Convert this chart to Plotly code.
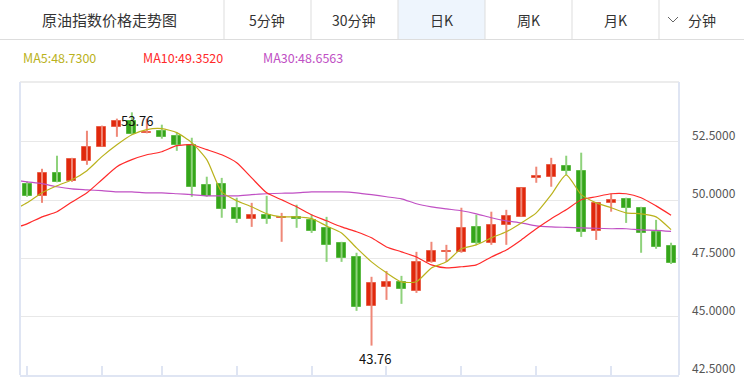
import plotly.graph_objects as go

# ---------------- data ----------------
opens = [50.70, 50.18, 51.17, 50.83, 51.68, 52.29, 53.14, 53.40, 52.86, 52.97,
         52.76, 52.37, 50.65, 50.70, 49.67, 49.20, 49.37, 49.22, 49.28, 49.15,
         48.81, 48.17, 47.56, 45.46, 46.28, 46.49, 46.11, 47.35, 47.76, 47.78,
         48.85, 48.17, 48.94, 49.28, 50.95, 51.00, 51.47, 51.26, 48.68, 49.88,
         50.05, 49.67, 48.64, 48.04]
highs = [50.79, 51.34, 51.90, 51.81, 52.97, 53.19, 53.49, 53.76, 53.49, 53.23,
         52.89, 52.67, 51.00, 50.95, 50.10, 49.88, 50.18, 49.45, 49.80, 49.37,
         49.28, 48.21, 47.74, 46.71, 46.96, 46.75, 47.78, 48.21, 48.08, 49.67,
         49.37, 49.50, 49.58, 50.53, 51.43, 51.81, 51.90, 52.03, 49.88, 50.27,
         50.10, 49.71, 49.15, 48.17]
lows = [50.14, 49.88, 50.76, 50.78, 51.51, 52.29, 52.71, 52.80, 52.86, 52.63,
        52.11, 50.14, 50.14, 49.24, 49.02, 48.85, 48.98, 48.21, 48.81, 48.59,
        47.35, 47.35, 45.25, 43.76, 45.72, 45.55, 46.02, 47.31, 47.35, 47.74,
        48.08, 48.08, 48.08, 49.28, 50.74, 50.57, 51.08, 48.42, 48.29, 49.50,
        49.02, 47.74, 47.91, 47.26]
closes = [50.18, 51.17, 50.78, 51.77, 52.29, 53.14, 53.40, 52.84, 52.93, 52.71,
          52.37, 50.57, 50.18, 49.62, 49.20, 49.37, 49.20, 49.26, 49.20, 48.68,
          48.08, 47.52, 45.42, 46.45, 46.49, 46.19, 47.35, 47.82, 47.82, 48.81,
          48.17, 48.94, 49.32, 50.53, 51.04, 51.51, 51.26, 48.64, 49.88, 50.01,
          49.67, 48.59, 47.99, 47.31]

# moving averages (first value belongs to the day before the first candle)
ma5 = [49.54, 49.88, 50.31, 50.61, 50.87, 51.26, 51.86, 52.37, 52.80, 53.02,
       53.06, 52.89, 52.46, 51.73, 50.35, 49.97, 49.71, 49.41, 49.28, 49.28,
       49.20, 48.89, 48.59, 47.95, 47.35, 46.88, 46.49, 46.50, 47.09, 47.35,
       47.91, 48.08, 48.38, 48.64, 49.02, 49.45, 50.23, 51.08, 50.23, 49.88,
       49.67, 49.45, 49.41, 49.28, 48.73]
ma10 = [48.77, 48.98, 49.28, 49.50, 49.92, 50.31, 50.87, 51.43, 51.73, 51.94,
        52.07, 52.33, 52.37, 52.16, 51.94, 51.60, 50.95, 50.31, 50.01, 49.71,
        49.37, 49.11, 48.85, 48.64, 48.38, 47.99, 47.78, 47.56, 47.22, 47.09,
        47.14, 47.22, 47.56, 47.86, 48.29, 48.77, 49.20, 49.58, 50.01, 50.14,
        50.27, 50.27, 50.10, 49.75, 49.352]
ma30 = [50.87, 50.78, 50.70, 50.57, 50.48, 50.44, 50.40, 50.35, 50.35, 50.31,
        50.31, 50.27, 50.23, 50.18, 50.18, 50.18, 50.23, 50.27, 50.29, 50.31,
        50.35, 50.35, 50.35, 50.31, 50.23, 50.14, 50.05, 49.84, 49.71, 49.62,
        49.54, 49.41, 49.24, 49.11, 49.02, 48.89, 48.85, 48.83, 48.81, 48.79,
        48.77, 48.77, 48.72, 48.70, 48.6563]

legend_texts = ["MA5:48.7300", "MA10:49.3520", "MA30:48.6563"]
y_ticks = [42.5, 45.0, 47.5, 50.0, 52.5]
y_tick_text = ["42.5000", "45.0000", "47.5000", "50.0000", "52.5000"]
x_ticks = [0, 5, 9, 14, 19, 24, 29, 34, 39]
title_text = "原油指数价格走势图"
tabs = ["5分钟", "30分钟", "日K", "周K", "月K", "分钟"]

# ---------------- styling ----------------
FONT = "Noto Sans CJK SC"
RED, RED_L = "#e0280c", "#ef8878"
GREEN, GREEN_L = "#35a51a", "#8fd27c"
C_MA5, C_MA10, C_MA30 = "#bab21c", "#ff2a2a", "#c050c4"

W, H = 744, 378
ML, MR, MT, MB = 20, 65, 82, 3
PW, PH = W - ML - MR, H - MT - MB


def px(xp):
    return (xp - ML) / PW


def py(yp):
    return (H - MB - yp) / PH


n = len(opens)
xs = list(range(n))
up = [c >= o for o, c in zip(opens, closes)]

fig = go.Figure()

# wicks
for flag, col in ((True, RED_L), (False, GREEN_L)):
    wx, wy = [], []
    for i in range(n):
        if up[i] == flag:
            wx += [xs[i], xs[i], None]
            wy += [lows[i], highs[i], None]
    fig.add_trace(go.Scatter(x=wx, y=wy, mode="lines", hoverinfo="skip",
                             line=dict(color=col, width=2), showlegend=False))

# bodies
base = [min(o, c) for o, c in zip(opens, closes)]
height = [max(abs(c - o), 0.05) for o, c in zip(opens, closes)]
fig.add_trace(go.Bar(
    x=xs, y=height, base=base, width=0.6, showlegend=False,
    marker=dict(color=[RED if u else GREEN for u in up],
                line=dict(color=["#e9604a" if u else "#5cba45" for u in up], width=1)),
))

# moving averages
ma_x = list(range(-1, n))
for vals, col in ((ma30, C_MA30), (ma10, C_MA10), (ma5, C_MA5)):
    fig.add_trace(go.Scatter(x=ma_x, y=vals, mode="lines", showlegend=False,
                             line=dict(color=col, width=1.2, shape="spline", smoothing=0.6)))

# high / low labels
imax = highs.index(max(highs))
imin = lows.index(min(lows))
annotations = [
    dict(x=xs[imax], y=highs[imax], text=f"{highs[imax]:.2f}", showarrow=False,
         xanchor="center", yanchor="top", xshift=5, yshift=3,
         font=dict(family=FONT, size=13, color="#111")),
    dict(x=xs[imin], y=lows[imin], text=f"{lows[imin]:.2f}", showarrow=False,
         xanchor="center", yanchor="top", xshift=3, yshift=-1,
         font=dict(family=FONT, size=13, color="#111")),
]

# legend texts
for txt, col, xl in zip(legend_texts, (C_MA5, C_MA10, C_MA30), (21, 141, 261)):
    annotations.append(dict(xref="paper", yref="paper", x=px(xl), y=py(58), text=txt,
                            showarrow=False, xanchor="left", yanchor="middle",
                            font=dict(family=FONT, size=12.5, color=col)))

# header bar
shapes = [
    dict(type="rect", xref="paper", yref="paper", x0=px(398), x1=px(485), y0=py(39), y1=py(0),
         fillcolor="#eef5fd", line=dict(width=0), layer="below"),
    dict(type="line", xref="paper", yref="paper", x0=px(0), x1=px(W), y0=py(39.5), y1=py(39.5),
         line=dict(color="#dddddd", width=1)),
]
for xv in (224, 311, 398, 485, 572, 659):
    shapes.append(dict(type="line", xref="paper", yref="paper", x0=px(xv), x1=px(xv),
                       y0=py(0), y1=py(39), line=dict(color="#dddddd", width=1)))
# chevron
shapes.append(dict(type="path", xref="paper", yref="paper",
                   path=f"M {px(668)} {py(17)} L {px(673)} {py(22)} L {px(678)} {py(17)}",
                   line=dict(color="#666666", width=1)))
# plot borders
shapes.append(dict(type="line", xref="paper", yref="paper", x0=0, x1=1, y0=1, y1=1,
                   line=dict(color="#e6e6e6", width=1.5)))
shapes.append(dict(type="line", xref="paper", yref="paper", x0=0, x1=0, y0=0, y1=1,
                   line=dict(color="#dfe5f3", width=2)))
shapes.append(dict(type="line", xref="paper", yref="paper", x0=1, x1=1, y0=0, y1=1,
                   line=dict(color="#dfe5f3", width=2)))

annotations.append(dict(xref="paper", yref="paper", x=px(110), y=py(20), text=title_text,
                        showarrow=False, xanchor="center", yanchor="middle",
                        font=dict(family=FONT, size=15, color="#333")))
for txt, xc in zip(tabs, (267, 354, 441, 528, 615, 702)):
    annotations.append(dict(xref="paper", yref="paper", x=px(xc), y=py(20), text=txt,
                            showarrow=False, xanchor="center", yanchor="middle",
                            font=dict(family=FONT, size=14, color="#333")))

fig.update_layout(
    width=W, height=H,
    margin=dict(l=ML, r=MR, t=MT, b=MB),
    paper_bgcolor="white", plot_bgcolor="white",
    barmode="overlay", bargap=0,
    showlegend=False,
    annotations=annotations, shapes=shapes,
    xaxis=dict(range=[-0.47, n - 0.47], showgrid=False, zeroline=False,
               tickvals=x_ticks, ticks="inside", ticklen=9, tickwidth=2,
               tickcolor="#dfe5f3", showticklabels=False,
               showline=True, linecolor="#dfe5f3", linewidth=2),
    yaxis=dict(range=[42.5, 55.06], side="right", tickvals=y_ticks, ticktext=y_tick_text,
               showgrid=True, gridcolor="#e8e8e8", gridwidth=1, zeroline=False,
               showline=False, ticks="",
               tickfont=dict(family=FONT, size=12, color="#555"),
               ticklabelshift=-6, ticklabelstandoff=12),
)

fig.write_html("out.html", config={"displayModeBar": False},
               post_script="document.body.style.margin='0';document.body.style.overflow='hidden';")
